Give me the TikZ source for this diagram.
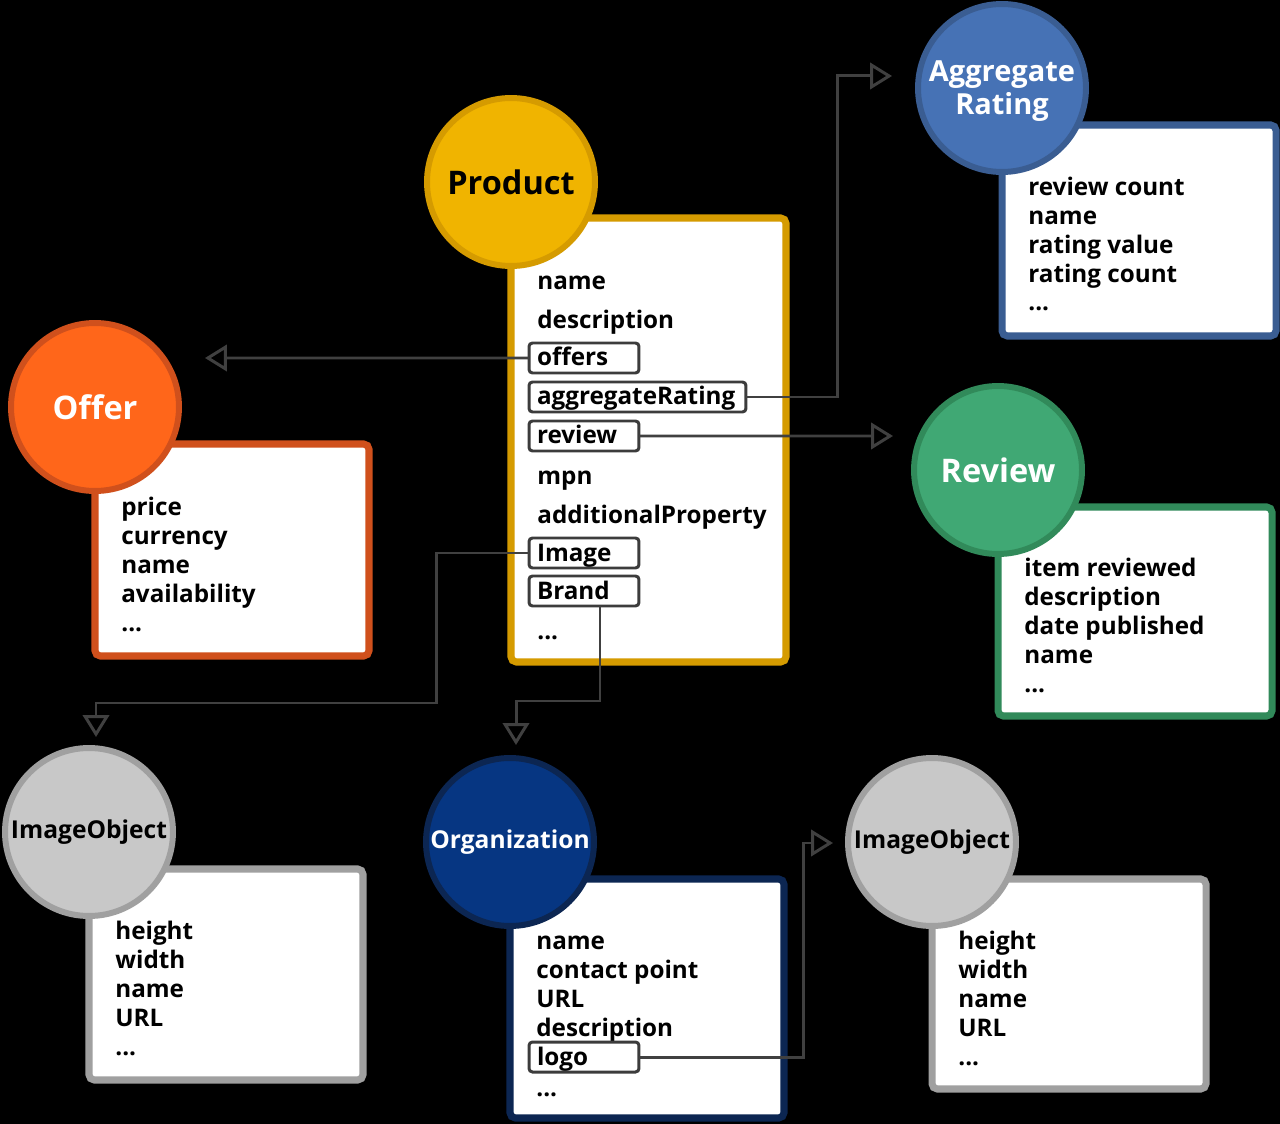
\documentclass[tikz,border=0pt]{standalone}
\usepackage{fontspec}
\setmainfont{Open Sans}
\usetikzlibrary{arrows.meta}

\definecolor{prodfill}{HTML}{F0B400}
\definecolor{prodline}{HTML}{D59B00}
\definecolor{offerfill}{HTML}{FF661A}
\definecolor{offerline}{HTML}{D0501C}
\definecolor{aggfill}{HTML}{4672B5}
\definecolor{aggline}{HTML}{3A5D92}
\definecolor{revfill}{HTML}{40A874}
\definecolor{revline}{HTML}{318A5A}
\definecolor{imgfill}{HTML}{C8C8C8}
\definecolor{imgline}{HTML}{A0A0A0}
\definecolor{orgfill}{HTML}{063682}
\definecolor{orgline}{HTML}{0C2652}
\definecolor{linkgray}{HTML}{404040}
\definecolor{propgray}{HTML}{3C3C3C}

\tikzset{
  entity/.style={circle, draw, line width=3.4pt, minimum size=3.36cm, inner sep=0pt, align=center,
    font=\fontsize{18.5}{22}\selectfont\bfseries},
  panel/.style={fill=white, line width=4pt, rounded corners=3pt},
  item/.style={anchor=base west, inner sep=0pt, align=left,
    font=\fontsize{13.8}{16.4}\selectfont\bfseries},
  prop/.style={draw=propgray, line width=1.7pt, rounded corners=2pt, anchor=base west, outer sep=0pt,
    inner xsep=0.16cm, inner ysep=0.04cm, text height=0.42cm, text depth=0.1cm, text width=1.88cm,
    align=left, font=\fontsize{13.8}{16.4}\selectfont\bfseries},
  link/.style={linkgray, line width=1.7pt, -{Triangle[open, length=12.5pt, width=15pt]}},
}

\begin{document}
\begin{tikzpicture}[x=0.02cm, y=-0.02cm]
    % background
    \fill[black] (0,0) rectangle (1280,1124);
    \useasboundingbox (0,0) rectangle (1280,1124);

    % draw panels
    \draw[panel, draw=prodline] (511,218) rectangle (786,662);
    \draw[panel, draw=offerline] (95,444) rectangle (369,656);
    \draw[panel, draw=aggline] (1002,125) rectangle (1276,336);
    \draw[panel, draw=revline] (998,507) rectangle (1272,716);
    \draw[panel, draw=imgline] (89,869) rectangle (363,1080);
    \draw[panel, draw=orgline] (510,879) rectangle (784,1118);
    \draw[panel, draw=imgline] (932,879) rectangle (1206,1089);

    % draw entities
    \node[entity, fill=prodfill, draw=prodline] (product) at (511,182) {Product};
    \node[entity, fill=offerfill, draw=offerline, text=white] (offer) at (95,407) {Offer};
    \node[entity, fill=aggfill, draw=aggline] (aggregate) at (1002,88) {};
    \node[text=white, align=center, font=\fontsize{16.5}{18.7}\selectfont\bfseries] (aggTitle) at (1002,91) {Aggregate\\Rating};
    \node[entity, fill=revfill, draw=revline, text=white] (reviewobj) at (998,470) {Review};
    \node[entity, fill=imgfill, draw=imgline, font=\fontsize{14}{17}\selectfont\bfseries] (imageleft) at (89,832) {ImageObject};
    \node[entity, fill=orgfill, draw=orgline, text=white, font=\fontsize{14}{17}\selectfont\bfseries] (organization) at (510,842) {Organization};
    \node[entity, fill=imgfill, draw=imgline, font=\fontsize{14}{17}\selectfont\bfseries] (imageright) at (932,842) {ImageObject};

    % product properties
    \node[item] (pname) at (537,290) {name};
    \node[item] (pdesc) at (537,329) {description};
    \node[prop] (offers) at (529,366) {offers};
    \node[prop, text width=4.02cm] (aggRating) at (529,405) {aggregateRating};
    \node[prop] (review) at (529,444) {review};
    \node[item] (pmpn) at (537,484) {mpn};
    \node[item] (paddprop) at (537,523) {additionalProperty};
    \node[prop] (image) at (529,561) {Image};
    \node[prop] (brand) at (529,599) {Brand};
    \node[item] (pmore) at (537,639) {...};

    % other properties (anchored on the last line)
    \node[item] (offerprops) at (121,631) {price\\currency\\name\\availability\\...};
    \node[item] (aggprops) at (1028,311) {review count\\name\\rating value\\rating count\\...};
    \node[item] (revprops) at (1024,692) {item reviewed\\description\\date published\\name\\...};
    \node[item] (imgleftprops) at (115,1055) {height\\width\\name\\URL\\...};
    \node[item] (orgprops) at (536,1036) {name\\contact point\\URL\\description};
    \node[prop] (logo) at (529,1065) {logo};
    \node[item] (orgmore) at (536,1096) {...};
    \node[item] (imgrightprops) at (958,1065) {height\\width\\name\\URL\\...};

    % arrow ends
    \coordinate (offerTip) at (205,358);
    \coordinate (aggTip) at (892,76);
    \coordinate (reviewTip) at (893,436);
    \coordinate (imgLeftTip) at (96,737);
    \coordinate (orgTip) at (516,745);
    \coordinate (imgRightTip) at (833,843);

    % draw links
    \draw[link] (offers.west) -- (offerTip);
    \draw[link] (aggRating.east) -- ++(92,0) |- (aggTip);
    \draw[link] (review.east) -- (reviewTip);
    \draw[link] (image.west) -| (436,703) -| (imgLeftTip);
    \draw[link] ([xshift=0.32cm]brand.south) -- ++(0,95) -| (orgTip);
    \draw[link] (logo.east) -- ++(165,0) |- (imgRightTip);
\end{tikzpicture}
\end{document}
